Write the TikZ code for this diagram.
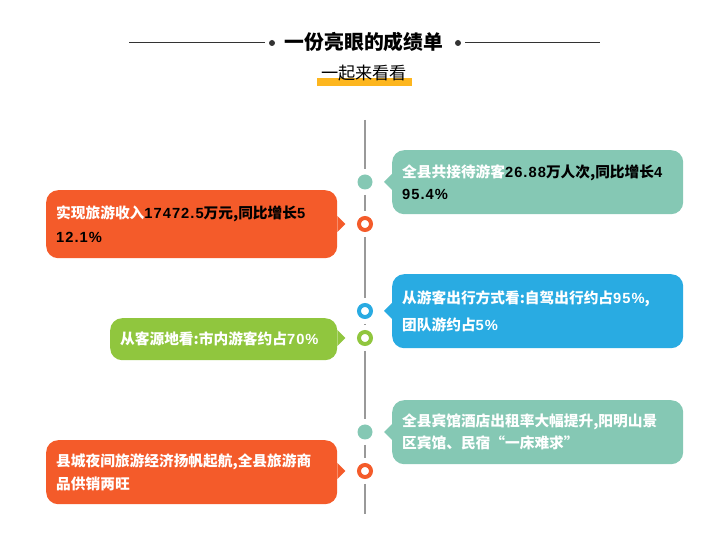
\documentclass[tikz,border=0pt]{standalone}
\usepackage{fontspec}
\usepackage{xcolor}
\usetikzlibrary{positioning}
\newfontfamily\cjk{Noto Sans CJK SC}
\newfontfamily\latn[LetterSpace=7]{Liberation Sans}
\newcommand{\dg}[1]{{\latn #1}}
\newcommand{\blk}[1]{{\color{black}#1}}
\definecolor{tealc}{HTML}{85C8B4}
\definecolor{orangec}{HTML}{F45B2A}
\definecolor{bluec}{HTML}{29ABE2}
\definecolor{greenc}{HTML}{90C63E}
\definecolor{barc}{HTML}{FDB61F}
\definecolor{darkc}{HTML}{333333}
\definecolor{spinec}{HTML}{999999}
\tikzset{
    bubble/.style={rectangle, rounded corners=12pt, anchor=north west, inner xsep=10pt, inner ysep=0pt, text width=271pt, align=left, text=white, font=\fontsize{14.7}{#1}\cjk\bfseries},
    dotfill/.style={circle, fill=#1, inner sep=0pt, minimum size=15pt, outer sep=5.5pt},
    dotring/.style={circle, draw=#1, fill=white, line width=4pt, inner sep=0pt, minimum size=12pt, outer sep=7pt},
    headdot/.style={circle, fill=darkc, inner sep=0pt, minimum size=6pt, outer sep=4pt},
    spine/.style={draw=spinec, line width=2pt},
    headline/.style={draw=darkc, line width=1pt}
}

\begin{document}
\begin{tikzpicture}[x=1pt, y=-1pt]
    \useasboundingbox (0, 0) rectangle (724, 534);

    \coordinate (hl) at (129, 43);
    \coordinate (hr) at (600, 43);
    \node[headdot] (hdl) at (272, 43) {};
    \node[headdot] (hdr) at (458, 43) {};
    \node[font=\fontsize{19.8}{24}\cjk\bfseries] (title) at (364, 42) {一份亮眼的成绩单};
    \draw[headline] (hl) -- (hdl);
    \draw[headline] (hdr) -- (hr);

    \node[rectangle, fill=barc, minimum width=95pt, minimum height=8pt, inner sep=0pt] (bar) at (364.5, 82) {};
    \node[font=\fontsize{17.2}{20}\cjk] (sub) at (364, 73) {一起来看看};

    \coordinate (top) at (365, 120);
    \coordinate (bot) at (365, 514);
    \node[dotfill=tealc] (d1) at (365, 182) {};
    \node[dotring=orangec] (d2) at (365, 224) {};
    \node[dotring=bluec] (d3) at (365, 311) {};
    \node[dotring=greenc] (d4) at (365, 338) {};
    \node[dotfill=tealc] (d5) at (365, 432) {};
    \node[dotring=orangec] (d6) at (365, 471) {};

    \draw[spine] (top) -- (d1);
    \draw[spine] (d1) -- (d2);
    \draw[spine] (d2) -- (d3);
    \draw[spine] (d3) -- (d4);
    \draw[spine] (d4) -- (d5);
    \draw[spine] (d5) -- (d6);
    \draw[spine] (d6) -- (bot);

    \node[bubble=22pt, fill=tealc, minimum height=64pt] (b1) at (392, 150) {全县共接待游客\blk{\dg{26.88}万人次,同比增长\dg{4}}\\ \blk{\dg{95.4\%}}};
    \node[bubble=24pt, fill=orangec, minimum height=68pt] (b2) at (46, 190) {实现旅游收入\blk{\dg{17472.5}万元,同比增长\dg{5}}\\ \blk{\dg{12.1\%}}};
    \node[bubble=27pt, fill=bluec, minimum height=74pt] (b3) at (392, 274) {从游客出行方式看:自驾出行约占\dg{95\%},\\ 团队游约占\dg{5\%}};
    \node[bubble=22pt, fill=greenc, minimum height=42pt, text width=207pt] (b4) at (110, 318) {从客源地看:市内游客约占\dg{70\%}};
    \node[bubble=22pt, fill=tealc, minimum height=64pt] (b5) at (392, 400) {全县宾馆酒店出租率大幅提升,阳明山景\\ 区宾馆、民宿“一床难求”};
    \node[bubble=23pt, fill=orangec, minimum height=64pt] (b6) at (46, 440) {县城夜间旅游经济扬帆起航,全县旅游商\\ 品供销两旺};

    \fill[tealc] (b1.west |- d1) ++(0, -8) -- ++(-8, 8) -- ++(8, 8) -- cycle;
    \fill[orangec] (b2.east |- d2) ++(0, -8) -- ++(8, 8) -- ++(-8, 8) -- cycle;
    \fill[bluec] (b3.west |- d3) ++(0, -8) -- ++(-8, 8) -- ++(8, 8) -- cycle;
    \fill[greenc] (b4.east |- d4) ++(0, -8) -- ++(8, 8) -- ++(-8, 8) -- cycle;
    \fill[tealc] (b5.west |- d5) ++(0, -8) -- ++(-8, 8) -- ++(8, 8) -- cycle;
    \fill[orangec] (b6.east |- d6) ++(0, -8) -- ++(8, 8) -- ++(-8, 8) -- cycle;
\end{tikzpicture}
\end{document}
